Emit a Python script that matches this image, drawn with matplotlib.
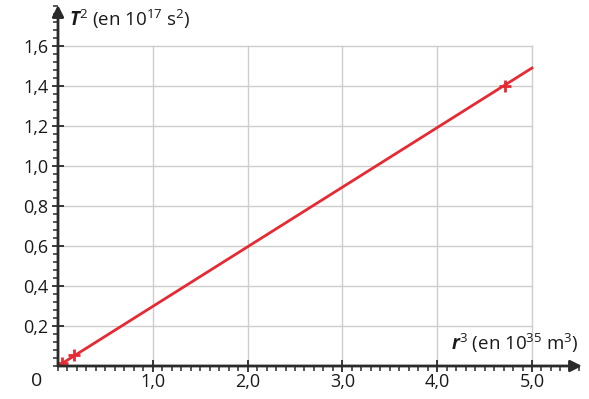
import numpy as np
import matplotlib
matplotlib.use("Agg")
import matplotlib.pyplot as plt
from matplotlib.ticker import MultipleLocator, FuncFormatter

plt.rcParams['font.family'] = ['Open Sans', 'DejaVu Sans']
plt.rcParams['mathtext.fontset'] = 'custom'
plt.rcParams['mathtext.rm'] = 'Open Sans'
plt.rcParams['mathtext.it'] = 'Open Sans:italic'
plt.rcParams['mathtext.bf'] = 'Open Sans:bold'
plt.rcParams['mathtext.bfit'] = 'Open Sans:bold:italic'

# data
r3 = [0.04, 0.17, 4.71]          # r^3 en 10^35 m^3
T2 = [0.013, 0.055, 1.40]        # T^2 en 10^17 s^2
fit_x = [0.0, 5.0]
fit_y = [0.0, 1.49]

xticks = [1.0, 2.0, 3.0, 4.0, 5.0]
yticks = [0.2, 0.4, 0.6, 0.8, 1.0, 1.2, 1.4, 1.6]

red = '#e62a33'
grid_c = '#cdcdcd'
axis_c = '#2a2a2a'
txt_c = '#1a1a1a'

fig = plt.figure(figsize=(5.89, 3.99), dpi=100)
ax = fig.add_axes([58/589, 33/399, (582-58)/589, (366-5)/399])
xmax = (582 - 58) / 94.8
ymax = (366 - 5) / 200.0
ax.set_xlim(0, xmax)
ax.set_ylim(0, ymax)

# grid only up to 5,0 / 1,6
for x in xticks:
    ax.plot([x, x], [0, 1.6], color=grid_c, lw=1, zorder=1)
for y in yticks:
    ax.plot([0, 5.0], [y, y], color=grid_c, lw=1, zorder=1)

ax.plot(fit_x, fit_y, color=red, lw=2, zorder=3)
ax.plot(r3, T2, ls='none', marker='+', ms=9, mew=2, color=red, zorder=4)

for s in ax.spines.values():
    s.set_visible(False)

# axes with arrows
ax.annotate('', xy=(xmax, 0), xytext=(0, 0), xycoords='data',
            arrowprops=dict(arrowstyle='-|>', color=axis_c, lw=2,
                            mutation_scale=17, shrinkA=0, shrinkB=0),
            annotation_clip=False, zorder=5)
ax.annotate('', xy=(0, ymax), xytext=(0, 0), xycoords='data',
            arrowprops=dict(arrowstyle='-|>', color=axis_c, lw=2,
                            mutation_scale=17, shrinkA=0, shrinkB=0),
            annotation_clip=False, zorder=5)

fmt = FuncFormatter(lambda v, p: ('%.1f' % v).replace('.', ','))
ax.set_xticks(xticks)
ax.set_yticks(yticks)
ax.xaxis.set_major_formatter(fmt)
ax.yaxis.set_major_formatter(fmt)
ax.xaxis.set_minor_locator(MultipleLocator(0.1))
ax.yaxis.set_minor_locator(MultipleLocator(0.04))
ax.tick_params(which='major', direction='inout', length=8, width=1.3,
               color=axis_c, labelsize=13, labelcolor=txt_c)
ax.tick_params(which='minor', direction='out', length=3.5, width=1.1, color=axis_c)
ax.tick_params(axis='x', which='major', pad=1)
ax.tick_params(axis='y', which='major', pad=3)

ax.text(-0.17, -0.03, '0', ha='right', va='top', fontsize=14, color=txt_c)

ax.text(0.12, 1.735, r'$\mathbfit{T}^{\mathregular{2}}$ (en 10$^{\mathregular{17}}$ s$^{\mathregular{2}}$)',
        fontsize=13.5, va='center', ha='left', color=txt_c)
ax.text(xmax - 0.03, 0.115, r'$\mathbfit{r}^{\mathregular{3}}$ (en 10$^{\mathregular{35}}$ m$^{\mathregular{3}}$)',
        fontsize=13.5, va='center', ha='right', color=txt_c)

fig.savefig('out.png', dpi=100)
